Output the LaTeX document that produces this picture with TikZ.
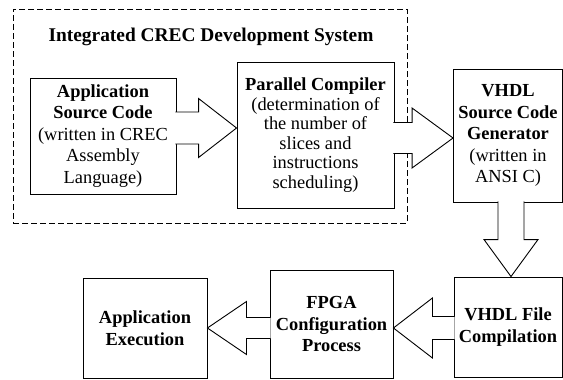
\documentclass[tikz,border=0pt]{standalone}
\usepackage{fontspec}
\setmainfont{Liberation Serif}
\usetikzlibrary{calc}
% wide open arrow from #1 to #2: shaft half width, head half width, head length
\newcommand{\fatarrow}[5]{%
  \coordinate (hb) at ($(#2)!#5pt!(#1)$);
  \path[arrowline] ($(#1)!#3pt!90:(#2)$) -- ($(hb)!#3pt!90:(#2)$) -- ($(hb)!#4pt!90:(#2)$)
    -- (#2) -- ($(hb)!#4pt!-90:(#2)$) -- ($(hb)!#3pt!-90:(#2)$) -- ($(#1)!#3pt!-90:(#2)$);
}

\begin{document}
\begin{tikzpicture}[x=1pt, y=-1pt,
  stagebox/.style={draw, line width=0.9pt, inner sep=1pt, align=center,
    font=\fontsize{18.4}{21.5}\selectfont},
  sysbox/.style={draw, line width=0.8pt, dash pattern=on 6pt off 3pt},
  arrowline/.style={draw, fill=white, line width=0.9pt, line join=miter}]
  \useasboundingbox (0,0) rectangle (563,380);

  % development system
  \node[sysbox, minimum width=394, minimum height=214] (sys) at (210,116) {};
  \node[font=\fontsize{19.4}{22}\selectfont\bfseries] (title) at (211,37) {Integrated CREC Development System};
  \node[stagebox, minimum width=146, minimum height=116] (app) at (103,136)
    {\textbf{Application}\\\textbf{Source Code}\\(written in CREC\\Assembly\\Language)};
  \node[stagebox, minimum width=157, minimum height=146,
    font=\fontsize{18.4}{19.5}\selectfont] (comp) at (315.5,135)
    {\textbf{Parallel Compiler}\\(determination of\\the number of\\slices and\\instructions\\scheduling)};

  % hardware side
  \node[stagebox, minimum width=109, minimum height=133] (vsrc) at (508,135.5)
    {\textbf{VHDL}\\\textbf{Source Code}\\\textbf{Generator}\\(written in\\ANSI C)};
  \node[stagebox, minimum width=108, minimum height=100] (vfile) at (508,327)
    {\textbf{VHDL File}\\\textbf{Compilation}};
  \node[stagebox, minimum width=123, minimum height=108] (fpga) at (331.5,324)
    {\textbf{FPGA}\\\textbf{Configuration}\\\textbf{Process}};
  \node[stagebox, minimum width=124, minimum height=100] (exec) at (145,328)
    {\textbf{Application}\\\textbf{Execution}};

  % flow
  \coordinate (a1s) at ($(app.east)+(-1,-8)$);
  \coordinate (a1e) at (comp.west |- a1s);
  \fatarrow{a1s}{a1e}{16}{29.5}{38}
  \coordinate (a2s) at ($(comp.east)+(-1,3)$);
  \coordinate (a2e) at (vsrc.west |- a2s);
  \fatarrow{a2s}{a2e}{15.5}{30}{41}
  \coordinate (a3s) at ($(vsrc.south)+(3,-1)$);
  \coordinate (a3e) at (vfile.north -| a3s);
  \fatarrow{a3s}{a3e}{13}{27}{37}
  \coordinate (a4s) at ($(vfile.west)+(1,1)$);
  \coordinate (a4e) at (fpga.east |- a4s);
  \fatarrow{a4s}{a4e}{11.5}{30}{39}
  \coordinate (a5s) at ($(fpga.west)+(1,4)$);
  \coordinate (a5e) at (exec.east |- a5s);
  \fatarrow{a5s}{a5e}{10.5}{26.5}{39}
\end{tikzpicture}
\end{document}
